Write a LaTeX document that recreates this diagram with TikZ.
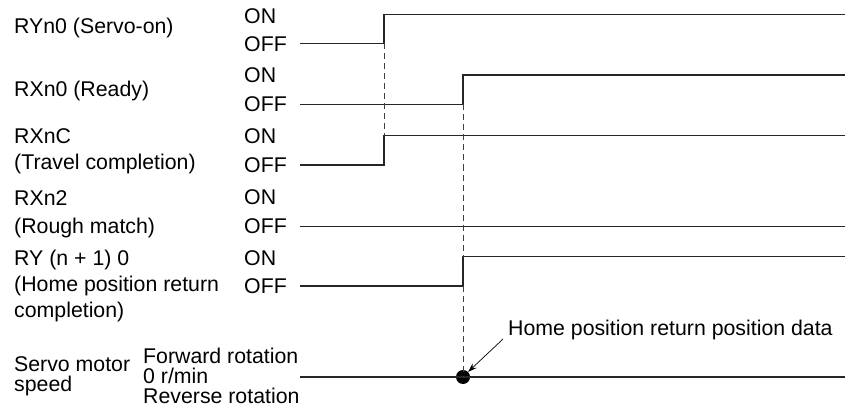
\documentclass[tikz,border=0pt]{standalone}
\usepackage{fontspec}
\setmainfont{Liberation Sans}
\usetikzlibrary{arrows.meta}
\begin{document}
\begin{tikzpicture}[x=1pt,y=-1pt,
  lbl/.style={anchor=base west,inner sep=0pt,font=\fontsize{21.3}{24}\selectfont},
  sig/.style={line width=1.1pt,color=black!85},
  guide/.style={line width=0.9pt,color=black!75,dash pattern=on 6pt off 4pt},
  pointer/.style={line width=0.7pt,-{Stealth[length=9pt,width=6pt]}}]
\useasboundingbox (0,0) rectangle (846,409);
% left labels
\node[lbl] (l1) at (14,33.5) {RYn0 (Servo-on)};
\node[lbl] (l2) at (14,97) {RXn0 (Ready)};
\node[lbl] (l3a) at (14,143) {RXnC};
\node[lbl] (l3b) at (14,170) {(Travel completion)};
\node[lbl] (l4a) at (14,205) {RXn2};
\node[lbl] (l4b) at (14,233) {(Rough match)};
\node[lbl] (l5a) at (14,265) {RY (n + 1) 0};
\node[lbl] (l5b) at (14,291) {(Home position return};
\node[lbl] (l5c) at (14,317) {completion)};
\node[lbl] (l6a) at (14,371) {Servo motor};
\node[lbl] (l6b) at (14,391) {speed};
% level labels
\node[lbl] (on1) at (244,23.5) {ON};
\node[lbl] (off1) at (244,52) {OFF};
\node[lbl] (on2) at (244,83) {ON};
\node[lbl] (off2) at (244,112) {OFF};
\node[lbl] (on3) at (244,143.5) {ON};
\node[lbl] (off3) at (244,172) {OFF};
\node[lbl] (on4) at (244,204.5) {ON};
\node[lbl] (off4) at (244,233.5) {OFF};
\node[lbl] (on5) at (244,265) {ON};
\node[lbl] (off5) at (244,293.5) {OFF};
\node[lbl] (fwd) at (143,363) {Forward rotation};
\node[lbl] (zero) at (143,383) {0 r/min};
\node[lbl] (rev) at (143,403) {Reverse rotation};
\node[lbl] (hp) at (508,335) {Home position return position data};
% waveform points
\coordinate (a0) at (300,43.5);  \coordinate (a1) at (384,43.5);
\coordinate (a2) at (384,14.5);  \coordinate (a3) at (845,14.5);
\coordinate (b0) at (300,104.5); \coordinate (b1) at (463,104.5);
\coordinate (b2) at (463,75);    \coordinate (b3) at (845,75);
\coordinate (c0) at (300,165);   \coordinate (c1) at (384,165);
\coordinate (c2) at (384,135.5); \coordinate (c3) at (845,135.5);
\coordinate (d0) at (300,226.5); \coordinate (d1) at (845,226.5);
\coordinate (e0) at (300,286);   \coordinate (e1) at (463,286);
\coordinate (e2) at (463,256.5); \coordinate (e3) at (845,256.5);
\coordinate (f0) at (300,377);   \coordinate (f1) at (845,377);
\node[circle,fill=black,inner sep=0pt,minimum size=14pt] (dot) at (463,377) {};
\coordinate (ptail) at (503,339);
% signals
\draw[sig] (a0) -- (a1) -- (a2) -- (a3);
\draw[sig] (b0) -- (b1) -- (b2) -- (b3);
\draw[sig] (c0) -- (c1) -- (c2) -- (c3);
\draw[sig] (d0) -- (d1);
\draw[sig] (e0) -- (e1) -- (e2) -- (e3);
\draw[sig] (f0) -- (f1);
% guides
\draw[guide] (a1) -- (c2);
\draw[guide] (b1) -- (e2);
\draw[guide] (e1) -- (dot.center);
% pointer
\draw[pointer] (ptail) -- (dot.north east);
\end{tikzpicture}
\end{document}
